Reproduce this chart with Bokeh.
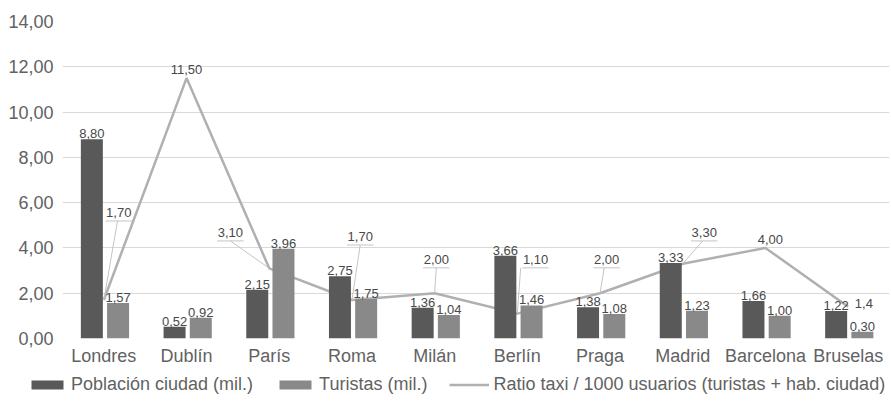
from bokeh.plotting import figure
from bokeh.layouts import column, row
from bokeh.models import Range1d, FixedTicker, ColumnDataSource, Legend, LegendItem
from bokeh.embed import file_html
from bokeh.resources import INLINE
from bokeh.core.properties import value

# ---------------- data ----------------
cities = ["Londres", "Dublín", "París", "Roma", "Milán", "Berlín", "Praga",
          "Madrid", "Barcelona", "Bruselas"]
poblacion = [8.80, 0.52, 2.15, 2.75, 1.36, 3.66, 1.38, 3.33, 1.66, 1.22]
turistas = [1.57, 0.92, 3.96, 1.75, 1.04, 1.46, 1.08, 1.23, 1.00, 0.30]
ratio = [1.70, 11.50, 3.10, 1.70, 2.00, 1.10, 2.00, 3.30, 4.00, 1.40]
ratio_text = ["1,70", "11,50", "3,10", "1,70", "2,00", "1,10", "2,00",
              "3,30", "4,00", "1,4"]
y_ticks = [0, 2, 4, 6, 8, 10, 12, 14]
y_tick_labels = ["0,00", "2,00", "4,00", "6,00", "8,00", "10,00", "12,00", "14,00"]
series_names = ["Población ciudad (mil.)", "Turistas (mil.)",
                "Ratio taxi / 1000 usuarios (turistas + hab. ciudad)"]

# ---------------- label placement (layout, not data) ----------------
lab_dx = [0.18, 0.0, -0.47, 0.10, 0.02, 0.22, 0.08, 0.26, 0.06, 0.19]
lab_y = [5.55, 11.89, 4.67, 4.49, 3.48, 3.48, 3.48, 4.67, 4.36, 1.54]
has_leader = [True, False, True, True, True, True, True, True, False, False]
anchor_dx = [0.165, 0, -0.47, 0.10, 0.02, 0.04, 0.05, 0.24, 0, 0]

DARK = "#595959"
LIGHT = "#898989"
LINE = "#b0b0b0"
TXT = "#626262"
LBL = "#484848"
FONT = "Liberation Sans"

def fmt(v):
    return f"{v:.2f}".replace(".", ",")

n = len(cities)
xc = [i + 0.5 for i in range(n)]
off_d, off_l, bw = -0.145, 0.172, 0.266

p = figure(width=891, height=368, output_backend="svg", toolbar_location=None,
           x_range=Range1d(0, n), y_range=Range1d(0, 14),
           min_border_left=62, min_border_right=2, min_border_top=21,
           min_border_bottom=29)
p.outline_line_color = None
p.xgrid.grid_line_color = None
p.ygrid.grid_line_color = "#d9d9d9"
p.ygrid.grid_line_width = 1
p.background_fill_color = "white"

# axes
p.yaxis.ticker = FixedTicker(ticks=y_ticks)
p.yaxis.major_label_overrides = {t: l for t, l in zip(y_ticks, y_tick_labels)}
p.xaxis.ticker = FixedTicker(ticks=xc)
p.xaxis.major_label_overrides = {x: c for x, c in zip(xc, cities)}
for ax in (p.xaxis, p.yaxis):
    ax.axis_line_color = None
    ax.major_tick_line_color = None
    ax.minor_tick_line_color = None
    ax.major_tick_out = 0
    ax.major_tick_in = 0
    ax.major_label_text_font = FONT
    ax.major_label_text_font_size = "18px"
    ax.major_label_text_color = TXT
p.yaxis.major_label_standoff = 9
p.xaxis.major_label_standoff = 7

# line (behind bars)
src_line = ColumnDataSource(dict(x=xc, y=ratio))
r_line = p.line("x", "y", source=src_line, line_color=LINE, line_width=2.5)

# leader lines and underlines
ux0, ux1, uy, lx0, ly0, lx1, ly1 = [], [], [], [], [], [], []
for i in range(n):
    if has_leader[i]:
        cx = xc[i] + lab_dx[i]
        yy = lab_y[i] - 0.36
        ux0.append(cx - 0.16); ux1.append(cx + 0.16); uy.append(yy)
        lx0.append(xc[i] + anchor_dx[i]); ly0.append(yy)
        lx1.append(xc[i]); ly1.append(ratio[i])
p.segment(x0=ux0, y0=uy, x1=ux1, y1=uy, line_color="#c4c4c4", line_width=1)
p.segment(x0=lx0, y0=ly0, x1=lx1, y1=ly1, line_color="#c4c4c4", line_width=1)

# bars
src = ColumnDataSource(dict(
    xd=[x + off_d for x in xc], xl=[x + off_l for x in xc],
    pob=poblacion, tur=turistas,
    pob_t=[fmt(v) for v in poblacion], tur_t=[fmt(v) for v in turistas],
))
r_d = p.vbar(x="xd", top="pob", width=bw, source=src, fill_color=DARK, line_color=None)
r_l = p.vbar(x="xl", top="tur", width=bw, source=src, fill_color=LIGHT, line_color=None)

# bar labels
for xk, yk, tk in (("xd", "pob", "pob_t"), ("xl", "tur", "tur_t")):
    p.text(x=xk, y=yk, text=tk, source=src, text_align="center",
           text_baseline="bottom", y_offset=-1, text_font=value(FONT),
           text_font_size="13px", text_color=LBL)

# line labels
src_lab = ColumnDataSource(dict(
    x=[xc[i] + lab_dx[i] for i in range(n)], y=lab_y, t=ratio_text))
p.text(x="x", y="y", text="t", source=src_lab, text_align="center",
       text_baseline="middle", text_font=value(FONT), text_font_size="13px",
       text_color=LBL)

# ---------------- legend strip ----------------
lg = figure(width=891, height=38, output_backend="svg", toolbar_location=None,
            x_range=Range1d(0, 1), y_range=Range1d(0, 1),
            x_axis_location=None, y_axis_location=None,
            min_border_left=0, min_border_right=0, min_border_top=0,
            min_border_bottom=0)
lg.grid.visible = False
lg.outline_line_color = None
dummy = ColumnDataSource(dict(x=[5, 6], y=[5, 6]))
g_d = lg.vbar(x="x", top="y", width=0.1, source=dummy, fill_color=DARK, line_color=None)
g_l = lg.vbar(x="x", top="y", width=0.1, source=dummy, fill_color=LIGHT, line_color=None)
g_line = lg.line(x="x", y="y", source=dummy, line_color=LINE, line_width=2.5)

legend = Legend(items=[
    LegendItem(label=series_names[0], renderers=[g_d]),
    LegendItem(label=series_names[1], renderers=[g_l]),
    LegendItem(label=series_names[2], renderers=[g_line]),
], orientation="horizontal", location=(27, 11), border_line_color=None,
    background_fill_alpha=0, padding=0, margin=0, spacing=22,
    label_standoff=4, glyph_width=40, glyph_height=11, label_height=20,
    label_text_font=FONT, label_text_font_size="18px", label_text_color=TXT)
lg.add_layout(legend, "center")

layout = column(p, row(lg, spacing=0), spacing=0)
open("out.html", "w").write(file_html(layout, INLINE))
